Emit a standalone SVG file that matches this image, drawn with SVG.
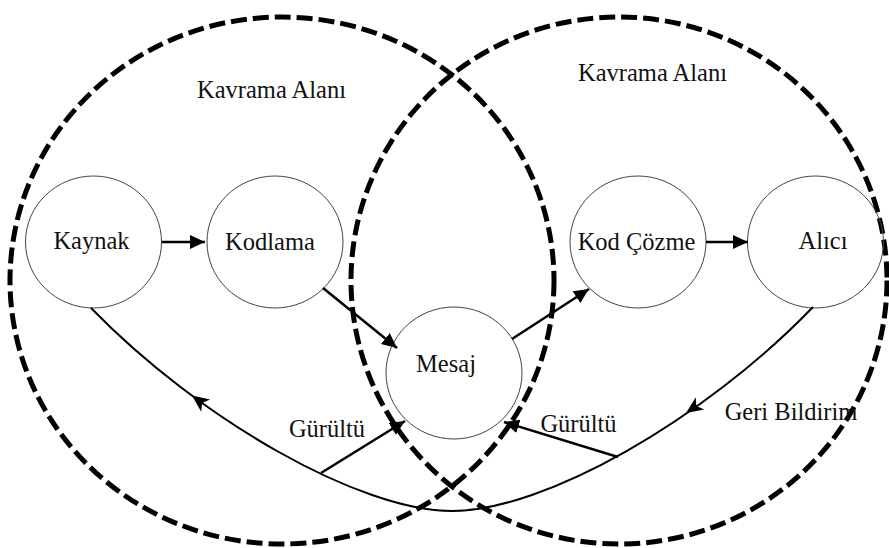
<svg xmlns="http://www.w3.org/2000/svg" xmlns:xlink="http://www.w3.org/1999/xlink" width="889" height="548" viewBox="0 0 889 548">
  <style>
    .field { fill: none; stroke: #000; stroke-width: 5; stroke-dasharray: 16 6; }
    .node { fill: none; stroke: #444; stroke-width: 1; }
    .label { font-family: "Liberation Serif", "Times New Roman", serif; font-size: 24.5px; fill: #111; text-anchor: middle; }
    .link { fill: none; stroke: #000; stroke-width: 2.5; }
    .loop { fill: none; stroke: #000; stroke-width: 2; }
  </style>
  <defs>
    <marker id="arrow" markerUnits="userSpaceOnUse" markerWidth="17" markerHeight="16" viewBox="0 0 17 16" refX="15" refY="8" orient="auto">
      <path d="M0,1 L15,8 L0,15 Z" fill="#000"/>
    </marker>
    <path id="head" d="M0,0 L-17,-7.5 L-12.5,0 L-17,7.5 Z" fill="#000"/>
  </defs>

  <!-- two overlapping fields of experience -->
  <g id="fields">
    <ellipse class="field" cx="282" cy="280.5" rx="272" ry="263.5"/>
    <ellipse class="field" cx="619" cy="280.5" rx="268" ry="263.5"/>
  </g>
  <text class="label" x="271.5" y="98">Kavrama Alanı</text>
  <text class="label" x="652.5" y="80.5">Kavrama Alanı</text>

  <g id="kaynak">
    <ellipse class="node" cx="93.5" cy="242" rx="68" ry="66"/>
    <text class="label" x="91.5" y="249">Kaynak</text>
  </g>
  <g id="kodlama">
    <ellipse class="node" cx="275" cy="242" rx="68" ry="66"/>
    <text class="label" x="270" y="250">Kodlama</text>
  </g>
  <g id="mesaj">
    <ellipse class="node" cx="454" cy="373" rx="68" ry="66"/>
    <text class="label" x="446" y="372">Mesaj</text>
  </g>
  <g id="kod-cozme">
    <ellipse class="node" cx="638" cy="242" rx="68" ry="66"/>
    <text class="label" x="636.5" y="250">Kod Çözme</text>
  </g>
  <g id="alici">
    <ellipse class="node" cx="815.5" cy="242" rx="68" ry="66"/>
    <text class="label" x="823" y="249">Alıcı</text>
  </g>

  <g id="connectors">
    <path class="link" d="M162,242 L205,242" marker-end="url(#arrow)"/>
    <path class="link" d="M706,242 L748,242" marker-end="url(#arrow)"/>
    <path class="link" d="M323,288 L397,348" marker-end="url(#arrow)"/>
    <path class="link" d="M512,339 L589,289" marker-end="url(#arrow)"/>
    <!-- noise -->
    <path class="link" d="M321,473 L405,421" marker-end="url(#arrow)"/>
    <path class="link" d="M618,457 L504,422" marker-end="url(#arrow)"/>
    <!-- feedback loop from receiver back to source -->
    <path class="loop" d="M813,307 C704,420 544,511 452,511 C360,511 200,420 91,308"/>
    <use xlink:href="#head" transform="translate(686,413) rotate(145.6)"/>
    <use xlink:href="#head" transform="translate(192,395.5) rotate(216.5)"/>
  </g>

  <text class="label" x="327" y="437">Gürültü</text>
  <text class="label" x="578.5" y="432">Gürültü</text>
  <text class="label" x="791" y="420">Geri Bildirim</text>
</svg>
